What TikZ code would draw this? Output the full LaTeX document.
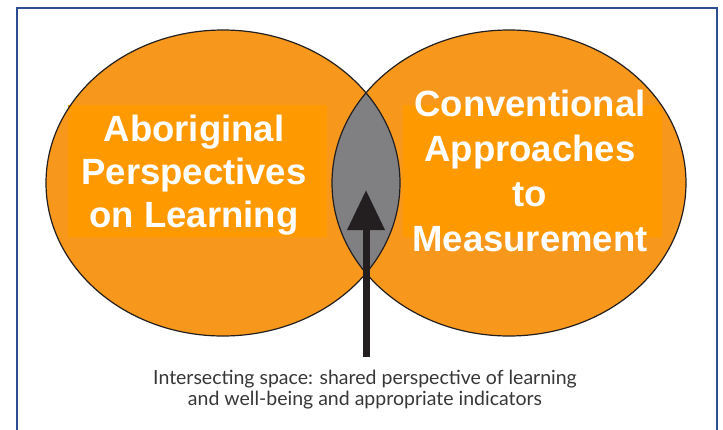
\documentclass[tikz,border=0pt]{standalone}
\usepackage{fontspec}
\setmainfont{Liberation Sans}
\newfontfamily\notefont{Lato}
\usetikzlibrary{arrows.meta}

\definecolor{circorange}{RGB}{247,152,29}
\definecolor{boxorange}{RGB}{255,153,0}
\definecolor{lensgray}{RGB}{128,128,131}
\definecolor{inkdark}{RGB}{35,31,32}
\definecolor{frameblue}{RGB}{42,78,145}
\definecolor{notegray}{RGB}{55,55,55}

\begin{document}
\begin{tikzpicture}[x=1pt,y=-1pt,
    bigtext/.style={text=white, font=\fontsize{36.5}{43}\selectfont\bfseries, align=center},
    textbox/.style={fill=boxorange, minimum width=259pt, minimum height=132pt, inner sep=0pt},
    setshape/.style={x radius=177pt, y radius=153pt}]
    \useasboundingbox (0,0) rectangle (723,429);
    \fill[white] (0,0) rectangle (723,429);
    % outer frame, open at the bottom edge
    \draw[frameblue, line width=2.5pt] (17,8) rectangle (717,445);

    % the two sets
    \coordinate (L) at (223,183);
    \coordinate (R) at (509,183);
    \fill[circorange] (L) ellipse [setshape];
    \fill[circorange] (R) ellipse [setshape];
    \node[textbox] (abobox) at (197.5,171) {};
    \node[textbox] (convbox) at (532.5,170.5) {};

    % overlap
    \begin{scope}
        \clip (L) ellipse [setshape];
        \fill[lensgray] (R) ellipse [setshape];
    \end{scope}
    \draw[inkdark, line width=1.2pt] (L) ellipse [setshape];
    \draw[inkdark, line width=1.2pt] (R) ellipse [setshape];

    \node[bigtext] (abo) at (194,175.5) {Aboriginal\\Perspectives\\on Learning};
    \node[bigtext, font=\fontsize{36.5}{45}\selectfont\bfseries] (conv) at (530,171) {Conventional\\Approaches\\to\\Measurement};

    \node[text=notegray, font=\notefont\fontsize{19.5}{21}\selectfont, align=center] (note) at (365,390)
    {Intersecting space: shared perspective of learning\\and well-being and appropriate indicators};

    \coordinate (tail) at (366,357);
    \coordinate (tip) at (366,190);
    \draw[-{Triangle[width=36pt,length=40pt]}, inkdark, line width=7pt] (tail) -- (tip);
\end{tikzpicture}
\end{document}
